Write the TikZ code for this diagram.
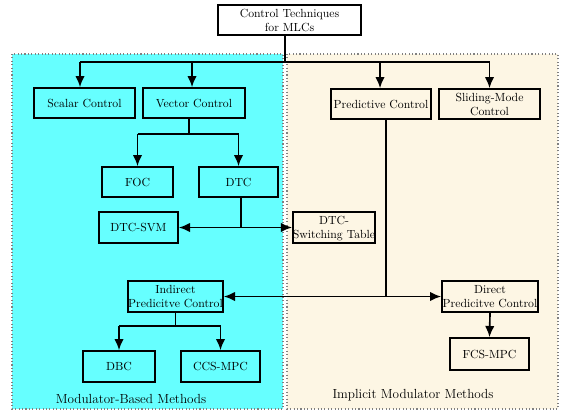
\documentclass[tikz,border=0pt]{standalone}
\usetikzlibrary{arrows.meta,calc}
\definecolor{cyanreg}{RGB}{102,255,255}
\definecolor{creamreg}{RGB}{253,246,228}
\begin{document}
\begin{tikzpicture}[x=0.85pt,y=-0.85pt,
  box/.style={draw, line width=1.4pt, align=center, inner sep=0pt, font=\normalsize, text depth=0pt},
  conn/.style={line width=1.4pt},
  arr/.style={line width=1.4pt, -{Latex[length=9.5pt,width=8pt]}},
  region/.style={draw=gray, dotted, line width=0.9pt},
  reglabel/.style={font=\fontsize{11.2}{13}\selectfont}]
\useasboundingbox (0,0) rectangle (570,414);
% regions
\fill[cyanreg] (12,54) rectangle (283,409);
\draw[region] (12,54) rectangle (283,409);
\fill[creamreg] (287,54) rectangle (558,409);
\draw[region] (287,54) rectangle (558,409);
% nodes
\node[box, fill=white, minimum width=143*0.85pt, minimum height=30*0.85pt] (top) at (289.5,20) {Control Techniques\\for MLCs};
\node[box, minimum width=101*0.85pt, minimum height=30*0.85pt] (scalar) at (84.5,103) {Scalar Control};
\node[box, minimum width=102*0.85pt, minimum height=30*0.85pt] (vector) at (194,103) {Vector Control};
\node[box, minimum width=100*0.85pt, minimum height=30*0.85pt] (pred) at (381,104) {Predictive Control};
\node[box, minimum width=101*0.85pt, minimum height=30*0.85pt] (slide) at (489.5,104) {Sliding-Mode\\Control};
\node[box, minimum width=71*0.85pt, minimum height=30*0.85pt] (foc) at (137.5,182) {FOC};
\node[box, minimum width=79*0.85pt, minimum height=30*0.85pt] (dtc) at (238.5,182) {DTC};
\node[box, minimum width=79*0.85pt, minimum height=31*0.85pt] (dtcsvm) at (138.5,227.5) {DTC-SVM};
\node[box, minimum width=82*0.85pt, minimum height=31*0.85pt] (dtcst) at (334,227.5) {DTC-\\Switching Table};
\node[box, minimum width=95*0.85pt, minimum height=31*0.85pt] (ind) at (175.5,296.5) {Indirect\\Predicitve Control};
\node[box, minimum width=96*0.85pt, minimum height=31*0.85pt] (dir) at (490,296.5) {Direct\\Predicitve Control};
\node[box, minimum width=72*0.85pt, minimum height=31*0.85pt] (dbc) at (119,366.5) {DBC};
\node[box, minimum width=79*0.85pt, minimum height=31*0.85pt] (ccs) at (220.5,366.5) {CCS-MPC};
\node[box, minimum width=79*0.85pt, minimum height=32*0.85pt] (fcs) at (489.5,354) {FCS-MPC};
% labels
\node[reglabel] (lblA) at (131,399) {Modulator-Based Methods};
\node[reglabel] (lblB) at (413,395) {Implicit Modulator Methods};
% connectors
\coordinate (t0) at ($(top.south)+(-4.5,0)$);
\coordinate (j0) at (t0 |- 0,62);
\coordinate (sA) at ($(scalar.north)+(-4.5,0)$);
\coordinate (vA) at ($(vector.north)+(-2,0)$);
\coordinate (pA) at ($(pred.north)+(-1,0)$);
\draw[conn] (t0) -- (j0);
\draw[conn] (sA |- j0) -- (slide.north |- j0);
\draw[arr] (sA |- j0) -- (sA);
\draw[arr] (vA |- j0) -- (vA);
\draw[arr] (pA |- j0) -- (pA);
\draw[arr] (slide.north |- j0) -- (slide.north);
\coordinate (v0) at ($(vector.south)+(-5,0)$);
\coordinate (j1) at (v0 |- 0,134);
\draw[conn] (v0) -- (j1);
\draw[conn] (foc.north |- j1) -- (dtc.north |- j1);
\draw[arr] (foc.north |- j1) -- (foc.north);
\draw[arr] (dtc.north |- j1) -- (dtc.north);
\coordinate (d0) at ($(dtc.south)+(2.5,0)$);
\coordinate (j2) at (d0 |- dtcsvm.east);
\draw[conn] (d0) -- (j2);
\draw[arr] (j2) -- (dtcsvm.east);
\draw[arr] (j2) -- (dtcst.west);
\coordinate (p0) at ($(pred.south)+(5,0)$);
\coordinate (j3) at (p0 |- ind.east);
\draw[conn] (p0) -- (j3);
\draw[arr] (j3) -- (ind.east);
\draw[arr] (j3) -- (dir.west);
\coordinate (j4) at (175.5,326);
\draw[conn] (ind.south) -- (j4);
\draw[conn] (dbc.north |- j4) -- (ccs.north |- j4);
\draw[arr] (dbc.north |- j4) -- (dbc.north);
\draw[arr] (ccs.north |- j4) -- (ccs.north);
\draw[arr] (dir.south) -- (fcs.north);
\end{tikzpicture}
\end{document}
